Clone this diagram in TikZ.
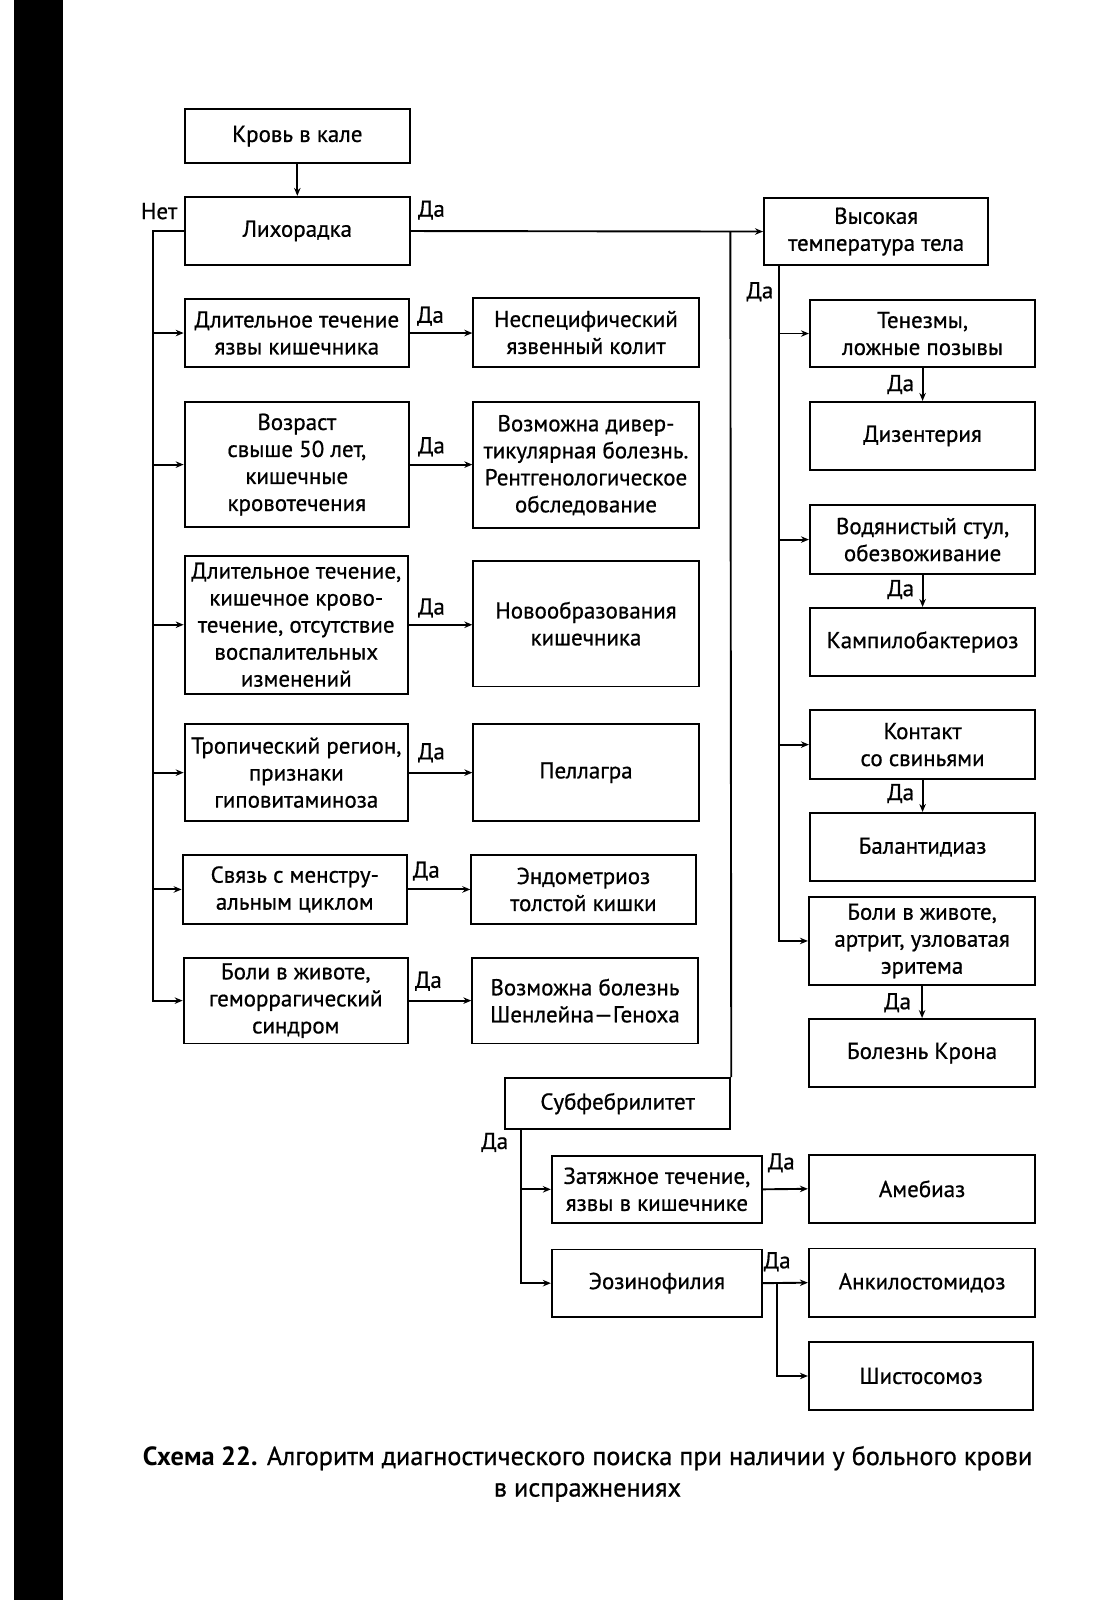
\documentclass[tikz,border=0pt]{standalone}
\usepackage{fontspec}
\setmainfont{PT Sans}
\newfontfamily\scanfont{PT Sans}[FakeBold=0.7]
\usetikzlibrary{arrows.meta,calc}
\tikzset{
  txt/.style={font=\scanfont\fontsize{23}{27}\selectfont},
  box/.style={draw, line width=1.9pt, inner sep=1pt, align=center, txt},
  ln/.style={line width=1.9pt},
  arr/.style={line width=1.9pt, -{Stealth[length=8pt,width=6.5pt]}},
  lbl/.style={txt, inner sep=0pt},
}
\newcommand\mybox[6]{\node[box,minimum width={(#4-#2)*1.02pt},minimum height={(#5-#3)*1.02pt}] (#1) at ({(#2+#4)/2},{(#3+#5)/2}) {#6};}
\begin{document}
\begin{tikzpicture}[x=1.02pt,y=-1.02pt]
\useasboundingbox (0,0) rectangle (1073.53,1568.63);
% scan strip
\fill[black] (13.5,0) rectangle (61.5,1568.63);
% top
\mybox{krov}{181}{107}{402}{160}{Кровь в кале}
\mybox{lih}{181}{193}{402}{260}{Лихорадка}
\mybox{vys}{749}{194}{969}{260}{Высокая\\температура тела}
% left column
\mybox{l1}{181}{293}{401}{360}{Длительное течение\\язвы кишечника}
\mybox{l2}{181}{394}{401}{517}{Возраст\\свыше 50 лет,\\кишечные\\кровотечения}
\mybox{l3}{181}{545}{400}{680}{Длительное течение,\\кишечное крово-\\течение, отсутствие\\воспалительных\\изменений}
\mybox{l4}{181}{710}{400}{805}{Тропический регион,\\признаки\\гиповитаминоза}
\mybox{l5}{179}{838}{399}{906}{Связь с менстру-\\альным циклом}
\mybox{l6}{180}{939}{400}{1023}{Боли в животе,\\геморрагический\\синдром}
% middle column
\mybox{m1}{464}{292}{685}{360}{Неспецифический\\язвенный колит}
\mybox{m2}{464}{394}{685}{518}{Возможна дивер-\\тикулярная болезнь.\\Рентгенологическое\\обследование}
\mybox{m3}{464}{550}{685}{673}{Новообразования\\кишечника}
\mybox{m4}{464}{710}{685}{805}{Пеллагра}
\mybox{m5}{462}{838}{682}{906}{Эндометриоз\\толстой кишки}
\mybox{m6}{463}{939}{684}{1023}{Возможна болезнь\\Шенлейна—Геноха}
% right column
\mybox{r1}{794}{294}{1015}{360}{Тенезмы,\\ложные позывы}
\mybox{r2}{794}{394}{1015}{461}{Дизентерия}
\mybox{r3}{794}{495}{1015}{563}{Водянистый стул,\\обезвоживание}
\mybox{r4}{794}{596}{1015}{663}{Кампилобактериоз}
\mybox{r5}{794}{696}{1015}{764}{Контакт\\со свиньями}
\mybox{r6}{794}{797}{1015}{864}{Балантидиаз}
\mybox{r7}{793}{879}{1015}{966}{Боли в животе,\\артрит, узловатая\\эритема}
\mybox{r8}{793}{999}{1015}{1066}{Болезнь Крона}
% bottom
\mybox{sub}{495}{1057}{716}{1107}{Субфебрилитет}
\mybox{zat}{541}{1133}{747}{1199}{Затяжное течение,\\язвы в кишечнике}
\mybox{ameb}{793}{1132}{1015}{1199}{Амебиаз}
\mybox{eoz}{541}{1225}{747}{1291}{Эозинофилия}
\mybox{ank}{793}{1224}{1015}{1291}{Анкилостомидоз}
\mybox{shis}{793}{1316}{1013}{1382}{Шистосомоз}
% bus coordinates
\coordinate (bL) at (150,0);
\coordinate (bM) at (716,0);
\coordinate (bR) at (764,0);
\coordinate (bB) at (511,0);
\coordinate (bE) at (762,0);
% connectors
\draw[arr] (krov) -- (lih);
\draw[arr] (lih.west) -- (lih.west -| bL) |- (l6.west);
\foreach \n in {l1,l2,l3,l4,l5} \draw[arr] (\n.west -| bL) -- (\n.west);
\foreach \n in {1,...,6} \draw[arr] (l\n.east) -- (l\n.east -| m\n.west);
\draw[arr] (lih.east) -- (vys.west);
\draw[ln] (lih.east -| bM) -- (sub.north east);
\draw[arr] (vys.south -| bR) |- (r7.west);
\foreach \n in {r1,r3,r5} \draw[arr] (\n.west -| bR) -- (\n.west);
\draw[arr] (r1.south) -- (r2.north);
\draw[arr] (r3.south) -- (r4.north);
\draw[arr] (r5.south) -- (r6.north);
\draw[arr] (r7.south) -- (r8.north);
\draw[arr] (sub.south -| bB) |- (eoz.west);
\draw[arr] (zat.west -| bB) -- (zat.west);
\draw[arr] (zat.east) -- (ameb.west);
\draw[arr] (eoz.east) -- (ank.west);
\draw[arr] (eoz.east -| bE) |- (shis.west);
% labels
\node[lbl] (tnet) at (156,207) {Нет};
\node[lbl] (tda0) at (423,206) {Да};
\node[lbl] (tda1) at (422,310) {Да};
\node[lbl] (tda2) at (423,438) {Да};
\node[lbl] (tda3) at (423,596) {Да};
\node[lbl] (tda4) at (423,738) {Да};
\node[lbl] (tda5) at (418,854) {Да};
\node[lbl] (tda6) at (420,962) {Да};
\node[lbl] (tdav) at (745,286) {Да};
\node[lbl] (tdr1) at (883,377) {Да};
\node[lbl] (tdr3) at (883,578) {Да};
\node[lbl] (tdr5) at (883,778) {Да};
\node[lbl] (tdr7) at (880,983) {Да};
\node[lbl] (tdsub) at (485,1120) {Да};
\node[lbl] (tdzat) at (766,1140) {Да};
\node[lbl] (tdeoz) at (762,1237) {Да};
% caption
\node[align=center, font=\fontsize{26.3}{31.5}\selectfont] (cap) at (576,1445)
 {\textbf{Схема 22.} {\scanfont Алгоритм диагностического поиска при наличии у больного крови}\\{\scanfont в испражнениях}};
\end{tikzpicture}
\end{document}
